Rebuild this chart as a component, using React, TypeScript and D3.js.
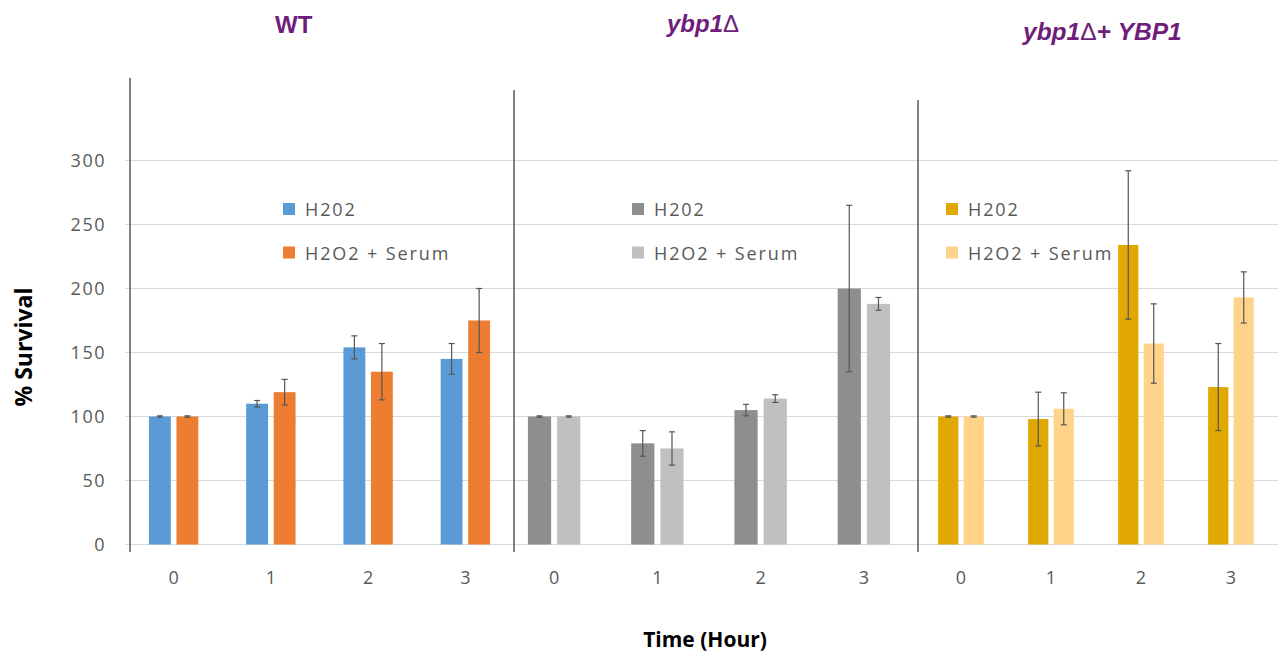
import React from "react";
import * as d3 from "d3";

const hours = ["0", "1", "2", "3"];
const yTicks = [0, 50, 100, 150, 200, 250, 300];
const seriesNames = ["H202", "H2O2 + Serum"];

const wtH2O2 = [100, 110, 154, 145];
const wtH2O2Err = [0.5, 2.5, 9, 12];
const wtSerum = [100, 119, 135, 175];
const wtSerumErr = [0.5, 10, 22, 25];

const ybpH2O2 = [100, 79, 105, 200];
const ybpH2O2Err = [0.5, 10, 4.5, 65];
const ybpSerum = [100, 75, 114, 188];
const ybpSerumErr = [0.5, 13, 3, 5];

const resH2O2 = [100, 98, 234, 123];
const resH2O2Err = [0.5, 21, 58, 34];
const resSerum = [100, 106, 157, 193];
const resSerumErr = [0.5, 12.5, 31, 20];

const W = 1283;
const H = 655;
const TEXT = "#595959";
const PURPLE = "#6F1D7B";

type Panel = {
  range: [number, number];
  a: number[]; aErr: number[]; b: number[]; bErr: number[];
  colors: [string, string];
  legendX: number;
};

const panels: Panel[] = [
  { range: [125, 514], a: wtH2O2, aErr: wtH2O2Err, b: wtSerum, bErr: wtSerumErr, colors: ["#5B9BD5", "#ED7D31"], legendX: 283 },
  { range: [502.5, 915.5], a: ybpH2O2, aErr: ybpH2O2Err, b: ybpSerum, bErr: ybpSerumErr, colors: ["#8E8E8E", "#C0C0C0"], legendX: 632 },
  { range: [916, 1276], a: resH2O2, aErr: resH2O2Err, b: resSerum, bErr: resSerumErr, colors: ["#E0A800", "#FFD38A"], legendX: 946 },
];

export default function App() {
  const y = d3.scaleLinear().domain([0, 300]).range([544.5, 160.5]);

  return (
    <svg width={W} height={H} style={{ position: "absolute", left: 0, top: 0, background: "#fff" }}>
      {yTicks.map((t) => (
        <line key={"g" + t} x1={125} x2={1278} y1={y(t)} y2={y(t)} stroke="#D9D9D9" strokeWidth={1.2} />
      ))}
      {yTicks.map((t) => (
        <text key={"yt" + t} x={106} y={y(t) + 6.5} textAnchor="end" fontFamily="'Open Sans', sans-serif" fontSize={18} letterSpacing={1.5} fill={TEXT}>
          {t}
        </text>
      ))}
      <line x1={130} x2={130} y1={78} y2={552} stroke="#595959" strokeWidth={1.5} />
      <line x1={514} x2={514} y1={90} y2={552} stroke="#595959" strokeWidth={1.5} />
      <line x1={918} x2={918} y1={100} y2={552} stroke="#595959" strokeWidth={1.5} />

      {panels.map((p, pi) => {
        const x = d3.scaleBand<string>().domain(hours).range(p.range).paddingInner(0).paddingOuter(0);
        const step = x.bandwidth();
        const bw = step * 0.225;
        const gap = step * 0.058;
        const sets = [
          { vals: p.a, errs: p.aErr, color: p.colors[0], off: -gap / 2 - bw },
          { vals: p.b, errs: p.bErr, color: p.colors[1], off: gap / 2 },
        ];
        return (
          <g key={"p" + pi}>
            {sets.map((s, si) =>
              hours.map((h, i) => {
                const cx = (x(h) as number) + step / 2;
                const bx = cx + s.off;
                const v = s.vals[i];
                const e = s.errs[i];
                const ex = bx + bw / 2;
                return (
                  <g key={`b${si}-${i}`}>
                    <rect x={bx} y={y(v)} width={bw} height={y(0) - y(v)} fill={s.color} />
                    <line x1={ex} x2={ex} y1={y(v + e)} y2={y(v - e)} stroke="#555" strokeWidth={1.2} />
                    <line x1={ex - 3} x2={ex + 3} y1={y(v + e)} y2={y(v + e)} stroke="#555" strokeWidth={1.2} />
                    <line x1={ex - 3} x2={ex + 3} y1={y(v - e)} y2={y(v - e)} stroke="#555" strokeWidth={1.2} />
                  </g>
                );
              })
            )}
            {hours.map((h) => (
              <text key={"xt" + h} x={(x(h) as number) + step / 2 + 0.75} y={584} textAnchor="middle" fontFamily="'Open Sans', sans-serif" fontSize={18} letterSpacing={1.5} fill={TEXT}>
                {h}
              </text>
            ))}
            {seriesNames.map((n, ni) => (
              <g key={"lg" + ni}>
                <rect x={p.legendX} y={203 + ni * 43.5} width={12} height={12} fill={p.colors[ni]} />
                <text x={p.legendX + 22} y={216 + ni * 43.5} fontFamily="'Open Sans', sans-serif" fontSize={18} letterSpacing={1.9} fill={TEXT}>
                  {n}
                </text>
              </g>
            ))}
          </g>
        );
      })}

      <text x={275} y={33} fontFamily="'Liberation Sans', Arial, sans-serif" fontWeight="bold" fontSize={24} fill={PURPLE}>
        WT
      </text>
      <text x={667} y={32} fontFamily="'Liberation Sans', Arial, sans-serif" fontWeight="bold" fontStyle="italic" fontSize={24} fill={PURPLE}>
        ybp1<tspan fontWeight="normal" fontStyle="normal">Δ</tspan>
      </text>
      <text x={1023} y={40} fontFamily="'Liberation Sans', Arial, sans-serif" fontWeight="bold" fontStyle="italic" fontSize={24.5} fill={PURPLE}>
        ybp1<tspan fontWeight="normal" fontStyle="normal">Δ</tspan>+ YBP1
      </text>

      <text transform="translate(32,347) rotate(-90)" textAnchor="middle" fontFamily="'Open Sans', sans-serif" fontWeight="bold" fontSize={23} fill="#000">
        % Survival
      </text>
      <text x={705} y={647} textAnchor="middle" fontFamily="'Open Sans', sans-serif" fontWeight="bold" fontSize={21} fill="#000">
        Time (Hour)
      </text>
    </svg>
  );
}
